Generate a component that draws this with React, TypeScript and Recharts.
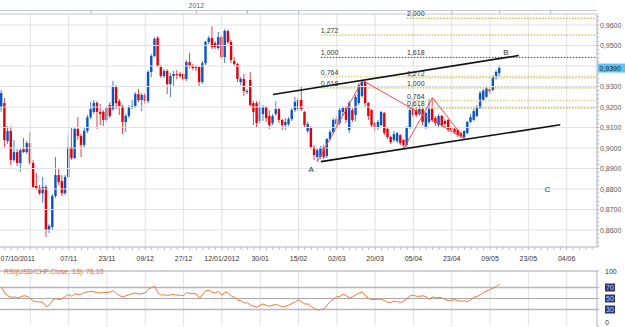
import React from 'react';
import { ComposedChart, LineChart, Bar, Line, XAxis, YAxis, ReferenceLine, ReferenceDot } from 'recharts';

// USD/CHF daily candles (index 0 = first visible bar)
const opens = [
  0.9200, 0.9219, 0.9034, 0.9083, 0.8941, 0.8980, 0.8927, 0.8995, 0.8980, 0.9024,
  0.8927, 0.8815, 0.8805, 0.8780, 0.8810, 0.8600, 0.8615, 0.8766, 0.8868, 0.8839,
  0.8780, 0.8859, 0.9005, 0.8951, 0.9093, 0.9059, 0.9015, 0.9083, 0.9150, 0.9176,
  0.9220, 0.9176, 0.9176, 0.9137, 0.9210, 0.9190, 0.9302, 0.9229, 0.9205, 0.9127,
  0.9156, 0.9200, 0.9205, 0.9263, 0.9234, 0.9259, 0.9229, 0.9371, 0.9449, 0.9537,
  0.9395, 0.9351, 0.9376, 0.9312, 0.9351, 0.9361, 0.9361, 0.9361, 0.9337, 0.9419,
  0.9400, 0.9395, 0.9395, 0.9322, 0.9414, 0.9517, 0.9537, 0.9512, 0.9488, 0.9541,
  0.9444, 0.9571, 0.9517, 0.9424, 0.9410, 0.9322, 0.9337, 0.9273, 0.9332, 0.9219,
  0.9219, 0.9132, 0.9166, 0.9200, 0.9156, 0.9122, 0.9166, 0.9190, 0.9137, 0.9112,
  0.9117, 0.9141, 0.9185, 0.9190, 0.9234, 0.9176, 0.9083, 0.9098, 0.9005, 0.8956,
  0.8956, 0.9005, 0.8961, 0.9044, 0.9078, 0.9141, 0.9122, 0.9176, 0.9195, 0.9088,
  0.9185, 0.9161, 0.9219, 0.9254, 0.9322, 0.9219, 0.9185, 0.9122, 0.9098, 0.9112,
  0.9171, 0.9093, 0.9054, 0.9039, 0.9034, 0.9063, 0.9039, 0.9015, 0.9102, 0.9190,
  0.9185, 0.9166, 0.9190, 0.9102, 0.9127, 0.9190, 0.9146, 0.9112, 0.9156, 0.9132,
  0.9137, 0.9102, 0.9093, 0.9088, 0.9073, 0.9054, 0.9073, 0.9127, 0.9137, 0.9156,
  0.9195, 0.9234, 0.9250, 0.9287, 0.9283, 0.9348, 0.9366,
];
const highs = [
  0.9283, 0.9244, 0.9107, 0.9107, 0.9039, 0.8995, 0.9000, 0.9049, 0.9034, 0.9078,
  0.8941, 0.8878, 0.8820, 0.8859, 0.8820, 0.8629, 0.8776, 0.8956, 0.8902, 0.8868,
  0.8868, 0.9063, 0.9102, 0.9102, 0.9151, 0.9068, 0.9098, 0.9161, 0.9224, 0.9234,
  0.9229, 0.9215, 0.9185, 0.9205, 0.9224, 0.9327, 0.9307, 0.9239, 0.9210, 0.9166,
  0.9210, 0.9234, 0.9273, 0.9288, 0.9268, 0.9268, 0.9380, 0.9459, 0.9541, 0.9546,
  0.9405, 0.9385, 0.9385, 0.9366, 0.9376, 0.9380, 0.9371, 0.9366, 0.9429, 0.9463,
  0.9410, 0.9405, 0.9400, 0.9424, 0.9522, 0.9546, 0.9593, 0.9522, 0.9566, 0.9551,
  0.9580, 0.9576, 0.9527, 0.9444, 0.9415, 0.9346, 0.9361, 0.9288, 0.9371, 0.9229,
  0.9229, 0.9229, 0.9210, 0.9205, 0.9185, 0.9166, 0.9229, 0.9195, 0.9141, 0.9146,
  0.9151, 0.9195, 0.9249, 0.9244, 0.9302, 0.9180, 0.9127, 0.9107, 0.9015, 0.9000,
  0.9010, 0.9015, 0.9049, 0.9088, 0.9146, 0.9156, 0.9195, 0.9205, 0.9205, 0.9229,
  0.9195, 0.9259, 0.9317, 0.9332, 0.9327, 0.9224, 0.9190, 0.9127, 0.9137, 0.9180,
  0.9176, 0.9098, 0.9059, 0.9083, 0.9078, 0.9068, 0.9044, 0.9107, 0.9195, 0.9224,
  0.9200, 0.9205, 0.9200, 0.9176, 0.9240, 0.9245, 0.9156, 0.9166, 0.9161, 0.9141,
  0.9141, 0.9107, 0.9098, 0.9093, 0.9078, 0.9088, 0.9132, 0.9166, 0.9190, 0.9210,
  0.9278, 0.9288, 0.9298, 0.9291, 0.9356, 0.9380, 0.9405,
];
const lows = [
  0.9176, 0.9005, 0.9020, 0.8917, 0.8932, 0.8912, 0.8883, 0.8976, 0.8971, 0.8917,
  0.8805, 0.8795, 0.8771, 0.8732, 0.8566, 0.8585, 0.8600, 0.8756, 0.8820, 0.8766,
  0.8771, 0.8854, 0.8941, 0.8946, 0.9039, 0.8956, 0.9000, 0.9073, 0.9141, 0.9166,
  0.9093, 0.9112, 0.9107, 0.9127, 0.9146, 0.9180, 0.9190, 0.9161, 0.9068, 0.9078,
  0.9146, 0.9190, 0.9195, 0.9224, 0.9180, 0.9215, 0.9219, 0.9346, 0.9444, 0.9395,
  0.9342, 0.9341, 0.9263, 0.9249, 0.9298, 0.9336, 0.9341, 0.9327, 0.9327, 0.9390,
  0.9380, 0.9376, 0.9298, 0.9312, 0.9405, 0.9507, 0.9483, 0.9483, 0.9478, 0.9434,
  0.9415, 0.9507, 0.9415, 0.9400, 0.9322, 0.9307, 0.9254, 0.9263, 0.9200, 0.9112,
  0.9098, 0.9122, 0.9132, 0.9127, 0.9093, 0.9112, 0.9156, 0.9122, 0.9088, 0.9088,
  0.9107, 0.9132, 0.9176, 0.9180, 0.9180, 0.9098, 0.9073, 0.8995, 0.8941, 0.8932,
  0.8946, 0.8946, 0.8951, 0.9034, 0.9068, 0.9098, 0.9112, 0.9156, 0.9122, 0.9073,
  0.9127, 0.9132, 0.9210, 0.9244, 0.9200, 0.9137, 0.9098, 0.9083, 0.9088, 0.9107,
  0.9063, 0.9044, 0.9020, 0.9029, 0.9024, 0.9015, 0.8995, 0.9005, 0.9093, 0.9151,
  0.9151, 0.9156, 0.9112, 0.9093, 0.9117, 0.9127, 0.9107, 0.9102, 0.9098, 0.9102,
  0.9078, 0.9078, 0.9068, 0.9054, 0.9049, 0.9044, 0.9068, 0.9122, 0.9132, 0.9151,
  0.9190, 0.9229, 0.9244, 0.9263, 0.9278, 0.9332, 0.9351,
];
const closes = [
  0.9268, 0.9039, 0.9083, 0.8941, 0.8980, 0.8927, 0.8990, 0.8980, 0.9024, 0.8927,
  0.8810, 0.8805, 0.8780, 0.8810, 0.8600, 0.8620, 0.8766, 0.8868, 0.8834, 0.8780,
  0.8859, 0.9005, 0.8951, 0.9093, 0.9059, 0.9015, 0.9083, 0.9150, 0.9190, 0.9220,
  0.9176, 0.9166, 0.9137, 0.9195, 0.9156, 0.9302, 0.9219, 0.9205, 0.9127, 0.9156,
  0.9200, 0.9205, 0.9263, 0.9234, 0.9259, 0.9229, 0.9371, 0.9449, 0.9532, 0.9400,
  0.9351, 0.9376, 0.9312, 0.9351, 0.9361, 0.9356, 0.9351, 0.9337, 0.9419, 0.9400,
  0.9390, 0.9390, 0.9322, 0.9414, 0.9517, 0.9537, 0.9493, 0.9493, 0.9541, 0.9444,
  0.9571, 0.9517, 0.9429, 0.9410, 0.9337, 0.9337, 0.9278, 0.9278, 0.9210, 0.9176,
  0.9122, 0.9200, 0.9200, 0.9146, 0.9112, 0.9156, 0.9190, 0.9137, 0.9112, 0.9127,
  0.9141, 0.9185, 0.9225, 0.9234, 0.9190, 0.9112, 0.9117, 0.9005, 0.8966, 0.8990,
  0.9000, 0.8956, 0.9044, 0.9078, 0.9137, 0.9117, 0.9185, 0.9195, 0.9137, 0.9220,
  0.9137, 0.9250, 0.9307, 0.9322, 0.9219, 0.9156, 0.9112, 0.9098, 0.9127, 0.9176,
  0.9073, 0.9054, 0.9029, 0.9068, 0.9073, 0.9024, 0.9015, 0.9102, 0.9185, 0.9161,
  0.9161, 0.9190, 0.9127, 0.9171, 0.9190, 0.9137, 0.9122, 0.9156, 0.9112, 0.9117,
  0.9088, 0.9088, 0.9078, 0.9063, 0.9059, 0.9083, 0.9127, 0.9151, 0.9180, 0.9200,
  0.9268, 0.9280, 0.9291, 0.9275, 0.9348, 0.9371, 0.9390,
];
// RSI(13) of the closes
const rsiValues = [
  71, 60, 55, 52, 53, 51, 53, 55, 54, 50,
  45, 44, 44, 43, 35, 38, 47, 50, 48, 50,
  54, 57, 54, 59, 57, 58, 61, 62, 63, 62,
  61, 60, 61, 61, 62, 64, 59, 55, 53, 55,
  57, 59, 60, 58, 59, 60, 67, 70, 72, 60,
  56, 57, 55, 57, 57, 56, 56, 55, 61, 59,
  59, 58, 50, 58, 64, 65, 61, 60, 63, 56,
  62, 60, 54, 52, 47, 46, 42, 42, 38, 36,
  34, 38, 40, 37, 36, 38, 39, 37, 35, 36,
  38, 41, 44, 47, 44, 40, 40, 35, 32, 29,
  30, 31, 38, 45, 49, 53, 54, 58, 55, 51,
  53, 57, 60, 62, 55, 50, 48, 48, 49, 48,
  46, 43, 43, 45, 44, 43, 45, 50, 55, 56,
  54, 54, 55, 53, 49, 53, 51, 52, 51, 48,
  46, 47, 48, 46, 45, 46, 44, 48, 52, 54,
  57, 61, 64, 66, 69, 72, 76.1,
];

const TOTAL_SLOTS = 187; // visible bars + empty future days
const dateTickIdx = [9, 21, 33, 45, 57, 69, 81, 93, 105, 117, 129, 141, 153, 165, 177];
const dateTickText = ['07/10/2011', '07/11', '23/11', '09/12', '27/12', '12/01/2012', '30/01', '15/02', '02/03', '20/03', '05/04', '23/04', '09/05', '23/05', '04/06'];
const topTickIdx = [28, 61, 77, 93, 141, 156, 172];
const yearTickIdx = 61;
const yearText = '2012';

const PRICE_MIN = 0.85171;
const PRICE_MAX = 0.96537;
const priceTicks = [0.86, 0.87, 0.88, 0.89, 0.9, 0.91, 0.92, 0.93, 0.94, 0.95, 0.96];
const rsiTicks = [0, 30, 50, 70, 100];

// fibonacci projections (value, first bar index, label)
const fibLineValues = [0.9633, 0.9551, 0.9442, 0.9348, 0.9343, 0.9293, 0.9231, 0.9195];
const fibLineStarts = [127, 100, 100, 100, 127, 100, 127, 127];
const fibLineKinds = ['olive', 'olive', 'dark', 'pale', 'pale', 'olive', 'pale', 'olive'];
const fibLabelValues = [0.9633, 0.9551, 0.9442, 0.9442, 0.9348, 0.9343, 0.9293, 0.9293, 0.9231, 0.9195];
const fibLabelStarts = [127, 100, 100, 127, 100, 127, 100, 127, 127, 127];
const fibLabelTexts = ['2,000', '1,272', '1,000', '1,618', '0,764', '1,272', '0,618', '1,000', '0,764', '0,618'];

// channel lines and the harmonic pattern, as [index, price] pairs
const channelUpper = [[85, 0.92607], [162, 0.94512]];
const channelLower = [[100, 0.89337], [175, 0.91132]];
const patternPoints = [[99, 0.8935], [113, 0.9330], [126, 0.8998], [135, 0.9245], [145, 0.9046]];
const patternLegs = [[0, 1], [1, 4], [2, 3], [3, 4]];
const pointLabels = ['A', 'B', 'C'];
const pointLabelIdx = [97, 158, 171];
const pointLabelValues = [0.8898, 0.9468, 0.8800];

const UP = '#0b52c6';
const DOWN = '#e2000b';
const GRID = '#e0e1e6';
const FONT = '"Liberation Sans", Arial, sans-serif';
const fibColors: Record<string, { stroke: string; width: number }> = {
  olive: { stroke: '#b3a21a', width: 1 },
  dark: { stroke: '#4d4700', width: 1 },
  pale: { stroke: '#ddd48c', width: 1.6 },
};

const rows = Array.from({ length: TOTAL_SLOTS }, (_, i) =>
  i < closes.length
    ? { i, range: [lows[i], highs[i]], open: opens[i], high: highs[i], low: lows[i], close: closes[i], rsi: rsiValues[i] }
    : { i, range: null, rsi: null }
);

const fmtPrice = (v: number) => v.toFixed(4).replace('.', ',');
const minorPriceTicks: number[] = [];
for (let k = 852; k <= 964; k += 2) minorPriceTicks.push(k / 1000);
const minorDateTicks: number[] = [];
for (let k = 1; k < TOTAL_SLOTS; k += 2) minorDateTicks.push(k);

const Candle = (props: any) => {
  const { x, y, width, height, payload } = props;
  if (!payload || payload.range == null) return null;
  const { open, close, high, low } = payload;
  const top = Math.min(y, y + height);
  const bottom = Math.max(y, y + height);
  const span = high - low;
  const toY = (v: number) => (span > 0 ? top + ((high - v) / span) * (bottom - top) : top);
  const color = close >= open ? UP : DOWN;
  const bTop = toY(Math.max(open, close));
  const bBot = toY(Math.min(open, close));
  const cx = x + width / 2;
  return (
    <g>
      <line x1={cx} x2={cx} y1={top} y2={bottom} stroke={color} strokeOpacity={0.75} strokeWidth={1} />
      <rect x={x} y={bTop} width={width} height={Math.max(1, bBot - bTop)} fill={color} />
    </g>
  );
};

const PriceTick = (props: any) => {
  const { x, y, payload } = props;
  const v = payload.value;
  const major = priceTicks.some((t) => Math.abs(t - v) < 1e-6);
  if (!major || Math.abs(v - 0.94) < 1e-6) return null;
  return (
    <text x={x} y={y + 2.5} fontSize={7} fill="#555" textAnchor="start" fontFamily={FONT}>
      {fmtPrice(v)}
    </text>
  );
};

const DateTick = (props: any) => {
  const { x, y, payload } = props;
  const k = dateTickIdx.indexOf(payload.value);
  if (k < 0) return null;
  return (
    <text x={k === 0 ? 0.5 : x} y={y + 9} textAnchor={k === 0 ? 'start' : 'middle'} fontSize={7} fill="#333" fontFamily={FONT}>
      {dateTickText[k]}
    </text>
  );
};

const RsiTick = (props: any) => {
  const { x, y, payload } = props;
  const v = payload.value;
  const boxed = v === 30 || v === 50 || v === 70;
  const ty = v === 0 ? y - 1 : y + 2.5;
  return (
    <g>
      {boxed && <rect x={x + 5} y={y - 4} width={10} height={8} fill="#2e3270" />}
      <text x={x + (boxed ? 6 : 5)} y={ty} fontSize={7} fill={boxed ? '#cfd3ff' : '#333'} fontFamily={FONT}>
        {v}
      </text>
    </g>
  );
};

const FibLabel = (props: any) => {
  const { cx, cy, text } = props;
  return (
    <text x={cx} y={cy - 2} fontSize={7} fill="#333" fontFamily={FONT}>
      {text}
    </text>
  );
};

export default function App() {
  return (
    <div style={{ position: 'absolute', left: 0, top: 0, width: 625, height: 327, background: '#fff', fontFamily: FONT }}>
      <div style={{ position: 'absolute', left: 0, top: 10, width: 597, borderTop: '1px solid #c4c8d2' }} />
      <div style={{ position: 'absolute', left: 0, top: 0 }}>
        <ComposedChart width={625} height={264} data={rows} margin={{ top: 0, right: 0, bottom: 0, left: 0 }}>
          <XAxis
            xAxisId="top"
            orientation="top"
            dataKey="i"
            ticks={topTickIdx}
            interval={0}
            height={14}
            tickSize={4}
            tickMargin={2}
            axisLine={{ stroke: '#c4c8d2' }}
            tickLine={{ stroke: '#b0b4be' }}
            tickFormatter={(v: any) => (v === yearTickIdx ? yearText : '')}
            tick={{ fontSize: 7, fill: '#5a6080', fontFamily: FONT }}
          />
          <XAxis
            dataKey="i"
            ticks={minorDateTicks}
            interval={0}
            height={17}
            tickSize={3}
            tickMargin={2}
            axisLine={{ stroke: '#aab0c0' }}
            tickLine={{ stroke: '#b8bcc6' }}
            tick={<DateTick />}
          />
          <YAxis
            orientation="right"
            type="number"
            domain={[PRICE_MIN, PRICE_MAX]}
            allowDataOverflow
            ticks={minorPriceTicks}
            interval={0}
            width={28}
            tickSize={2}
            tickMargin={1}
            axisLine={{ stroke: '#aab0c0' }}
            tickLine={{ stroke: '#aab0c0' }}
            tick={<PriceTick />}
          />
          {priceTicks.map((v) => (
            <ReferenceLine key={'h' + v} y={v} stroke={GRID} />
          ))}
          {dateTickIdx.map((k) => (
            <ReferenceLine key={'v' + k} x={k} stroke={GRID} />
          ))}
          <Bar dataKey="range" barSize={2.4} shape={(p: any) => <Candle {...p} />} isAnimationActive={false} />
          {fibLineValues.map((v, k) => (
            <ReferenceLine
              key={'f' + k}
              segment={[{ x: fibLineStarts[k], y: v }, { x: TOTAL_SLOTS - 1, y: v }]}
              stroke={fibColors[fibLineKinds[k]].stroke}
              strokeWidth={fibColors[fibLineKinds[k]].width}
              strokeDasharray="1.5 1.5"
            />
          ))}
          {fibLabelValues.map((v, k) => (
            <ReferenceDot
              key={'fl' + k}
              x={fibLabelStarts[k]}
              y={v}
              r={0}
              stroke="none"
              fill="none"
              label={(p: any) => <FibLabel cx={p.viewBox.x + p.viewBox.width / 2} cy={p.viewBox.y + p.viewBox.height / 2} text={fibLabelTexts[k]} />}
            />
          ))}
          {patternLegs.map(([a, b], k) => (
            <ReferenceLine
              key={'p' + k}
              segment={[{ x: patternPoints[a][0], y: patternPoints[a][1] }, { x: patternPoints[b][0], y: patternPoints[b][1] }]}
              stroke="#f04848"
              strokeWidth={1}
            />
          ))}
          {[channelUpper, channelLower].map((seg, k) => (
            <ReferenceLine
              key={'c' + k}
              segment={[{ x: seg[0][0], y: seg[0][1] }, { x: seg[1][0], y: seg[1][1] }]}
              stroke="#111"
              strokeWidth={1.6}
            />
          ))}
          {pointLabels.map((t, k) => (
            <ReferenceDot
              key={'pl' + k}
              x={pointLabelIdx[k]}
              y={pointLabelValues[k]}
              r={0}
              stroke="none"
              fill="none"
              label={{ value: t, position: 'center', fontSize: 8, fill: '#333', fontFamily: FONT }}
            />
          ))}
          <ReferenceLine
            y={closes[closes.length - 1]}
            stroke="none"
            label={(p: any) => {
              const vb = p.viewBox;
              const x0 = vb.x + vb.width + 1;
              return (
                <g>
                  <rect x={x0} y={vb.y - 4.5} width={27} height={9} fill="#5cc3f2" />
                  <text x={x0 + 1.5} y={vb.y + 2.5} fontSize={7} fill="#1b1b1b" fontFamily={FONT}>
                    {fmtPrice(closes[closes.length - 1])}
                  </text>
                </g>
              );
            }}
          />
        </ComposedChart>
      </div>
      <div style={{ position: 'absolute', left: 0, top: 262 }}>
        <LineChart width={625} height={65} data={rows} margin={{ top: 9, right: 0, bottom: 1, left: 0 }}>
          <XAxis dataKey="i" hide scale="band" />
          <YAxis
            orientation="right"
            type="number"
            domain={[0, 100]}
            ticks={rsiTicks}
            interval={0}
            width={28}
            tickSize={2}
            tickMargin={1}
            axisLine={{ stroke: '#aab0c0' }}
            tickLine={{ stroke: '#aab0c0' }}
            tick={<RsiTick />}
          />
          {dateTickIdx.map((k) => (
            <ReferenceLine key={'rv' + k} x={k} stroke={GRID} />
          ))}
          <ReferenceLine
            y={100}
            stroke="#a4a6ae"
            label={(p: any) => (
              <text x={p.viewBox.x + 4} y={p.viewBox.y + 3} fontSize={7} fill="#e8602c" fontFamily={FONT}>
                RSI(USD/CHF.Close, 13): 76,10
              </text>
            )}
          />
          <ReferenceLine y={70} stroke="#b4b4c8" strokeWidth={1.5} />
          <ReferenceLine y={50} stroke="#a8a8ae" />
          <ReferenceLine y={30} stroke="#b4b4c8" strokeWidth={1.5} />
          <Line dataKey="rsi" stroke="#f07838" strokeWidth={1} dot={false} isAnimationActive={false} />
        </LineChart>
      </div>
    </div>
  );
}
